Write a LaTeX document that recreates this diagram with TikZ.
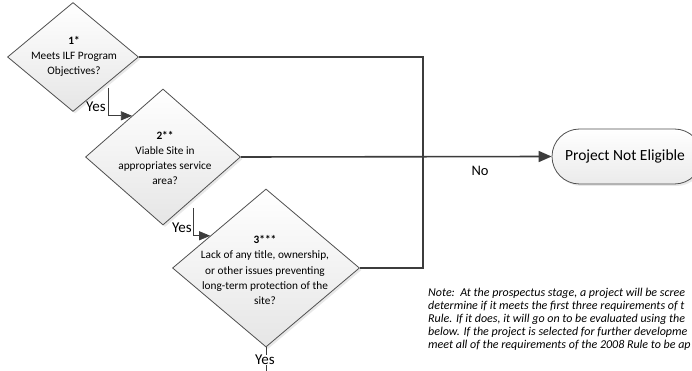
\documentclass[tikz,border=0pt]{standalone}
\usepackage{fontspec}
\setmainfont{Carlito}
\usetikzlibrary{shapes.geometric,shapes.misc,shadows,arrows.meta}
\definecolor{conncol}{HTML}{3C3C3C}
\definecolor{linegray}{HTML}{505050}
\begin{document}
\begin{tikzpicture}[x=1pt,y=-1pt,
  dia/.style={diamond, draw=linegray, line width=0.8pt, top color=white, bottom color=gray!20,
    inner sep=0pt, drop shadow={opacity=0.18,shadow xshift=2pt,shadow yshift=-2pt}},
  dtext/.style={align=center, font=\fontsize{11.3}{15.2}\selectfont, inner sep=0pt},
  conn/.style={draw=conncol, line width=1.6pt},
  yesconn/.style={draw=conncol, line width=0.7pt, -{Triangle[length=11pt,width=9pt]}},
  lbl/.style={font=\fontsize{15}{16}\selectfont, fill=white, inner sep=0.5pt},
  termbox/.style={rounded rectangle, draw=linegray, line width=0.8pt, top color=white, bottom color=gray!16,
    minimum width=150pt, minimum height=55pt, inner sep=0pt, font=\fontsize{15.5}{17}\selectfont,
    drop shadow={opacity=0.18,shadow xshift=2pt,shadow yshift=-2pt}},
  notetext/.style={anchor=north west, align=left, inner sep=0pt, font=\itshape\fontsize{12}{13}\selectfont}
  ]
\useasboundingbox[fill=white] (0,0) rectangle (692,371);

% diamonds
\node[dia, minimum width=131pt, minimum height=109pt] (d1) at (73,57) {};
\node[dtext] (t1) at (74,56.5) {\textbf{1*}\\Meets ILF Program\\Objectives?};

\node[dia, minimum width=155pt, minimum height=136pt] (d2) at (163,157) {};
\node[dtext] (t2) at (165,158) {\textbf{2**}\\Viable Site in\\appropriates service\\area?};

\node[dia, minimum width=187pt, minimum height=158pt] (d3) at (266,268) {};
\node[dtext] (t3) at (265,270) {\textbf{3***}\\Lack of any title, ownership,\\or other issues preventing\\long-term protection of the\\site?};

% terminator
\node[termbox] (term) at (627,156.5) {\hspace*{-4pt}Project Not Eligible};

% No connectors
\coordinate (c1) at (423,57);
\draw[conn] (d1.east) -- (c1) |- (d3.east);
\draw[conn, -{Triangle[length=13pt,width=11pt]}] (d2.east) -- (term.west);
\node[font=\fontsize{14.5}{16}\selectfont, inner sep=0.5pt] (no) at (480,171) {No};

% Yes connectors
\draw[yesconn] ([yshift=-5.5pt]d1.-35) |- (d2.127);
\draw[yesconn] ([yshift=-9pt]d2.-54) |- (d3.150);
\node[lbl] (y1) at (96,107) {Yes};
\node[lbl] (y2) at (182,228) {Yes};

\coordinate (c3) at (266,385);
\draw[draw=conncol, line width=0.7pt] (d3.south) -- (c3);
\node[lbl] (y3) at (265,360) {Yes};

% note
\node[notetext] (note) at (428,288) {Note:\ \ At the prospectus stage, a project will be scree\\
determine if it meets the first three requirements of t\\
Rule. If it does, it will go on to be evaluated using the\\
below. If the project is selected for further developme\\
meet all of the requirements of the 2008 Rule to be ap};
\end{tikzpicture}
\end{document}
